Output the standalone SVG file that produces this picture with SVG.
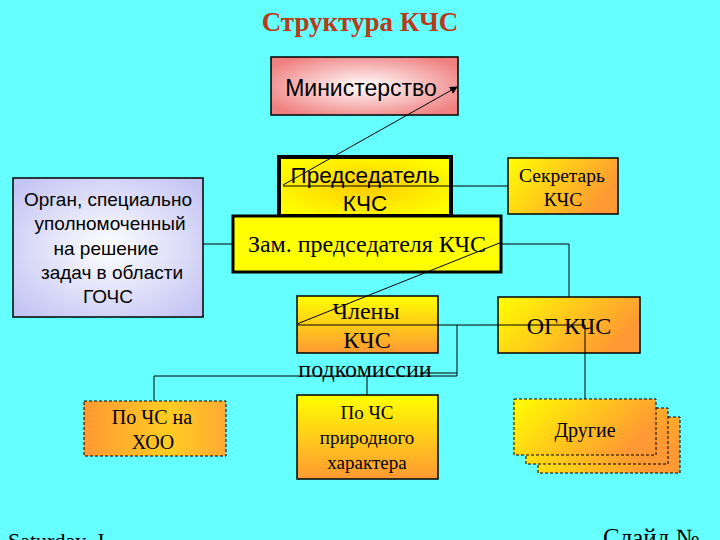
<svg xmlns="http://www.w3.org/2000/svg" width="720" height="540" viewBox="0 0 720 540">
<defs>
<radialGradient id="gPink" cx="50%" cy="50%" r="60%"><stop offset="0" stop-color="#FFFFFF"/><stop offset="1" stop-color="#F08080"/></radialGradient>
<radialGradient id="gChair" cx="50%" cy="50%" r="60%"><stop offset="0" stop-color="#FFCC00"/><stop offset="1" stop-color="#FFFF00"/></radialGradient>
<radialGradient id="gLav" cx="50%" cy="50%" r="65%"><stop offset="0" stop-color="#FFFFFF"/><stop offset="1" stop-color="#C4C4F4"/></radialGradient>
<linearGradient id="gH" x1="0" y1="0" x2="1" y2="0.4"><stop offset="0" stop-color="#FFFF00"/><stop offset="1" stop-color="#FF9933"/></linearGradient>
<linearGradient id="gV" x1="0" y1="0" x2="0" y2="1"><stop offset="0" stop-color="#FFFF00"/><stop offset="1" stop-color="#FF9933"/></linearGradient>
<linearGradient id="gO" x1="0" y1="0" x2="1" y2="0"><stop offset="0" stop-color="#FF9933"/><stop offset="0.6" stop-color="#FFCC22"/><stop offset="1" stop-color="#FFAA33"/></linearGradient>
<marker id="arr" markerWidth="8" markerHeight="8" refX="7" refY="4" orient="auto" markerUnits="userSpaceOnUse"><path d="M0,0 L8,4 L0,8 z" fill="#000"/></marker>
</defs>
<style>
.box{stroke:#000;stroke-width:1.5}
.dash{stroke:#000;stroke-width:1;stroke-dasharray:3,2}
.ln{fill:none;stroke:#000;stroke-width:1}
.sans{font-family:"Liberation Sans",Arial,sans-serif;fill:#000}
.serif{font-family:"Liberation Serif","Times New Roman",serif;fill:#000}
</style>
<rect width="720" height="540" fill="#66FFFF"/>
<text x="360" y="31" text-anchor="middle" font-family="Liberation Serif, Times New Roman, serif" font-weight="bold" font-size="27" fill="#B83A1B">Структура КЧС</text>

<g id="ministry">
<rect x="271" y="57" width="187" height="58" fill="url(#gPink)" class="box" stroke-width="2"/>
<text x="361" y="96" text-anchor="middle" class="sans" font-size="23">Министерство</text>
</g>

<g id="chairman">
<rect x="279" y="157" width="172" height="59" fill="url(#gChair)" stroke="#000" stroke-width="4"/>
<text x="365" y="183" text-anchor="middle" class="sans" font-size="22.5">Председатель</text>
<text x="365" y="211" text-anchor="middle" class="sans" font-size="22.5">КЧС</text>
</g>

<g id="deputy">
<rect x="233" y="216" width="268" height="56" fill="#FFFF00" stroke="#000" stroke-width="3"/>
<text x="367" y="252" text-anchor="middle" class="serif" font-size="24">Зам. председателя КЧС</text>
</g>

<g id="secretary">
<rect x="508" y="158" width="110" height="56" fill="url(#gH)" class="box"/>
<text x="562" y="182" text-anchor="middle" class="serif" font-size="19.5">Секретарь</text>
<text x="563" y="206" text-anchor="middle" class="serif" font-size="19.5">КЧС</text>
</g>

<g id="organ">
<rect x="13" y="178" width="190" height="139" fill="url(#gLav)" class="box" stroke-width="1"/>
<text x="108" y="206" text-anchor="middle" class="sans" font-size="19">Орган, специально</text>
<text x="110" y="230" text-anchor="middle" class="sans" font-size="19">уполномоченный</text>
<text x="106" y="255" text-anchor="middle" class="sans" font-size="19">на решение</text>
<text x="112" y="279" text-anchor="middle" class="sans" font-size="19">задач в области</text>
<text x="108" y="303" text-anchor="middle" class="sans" font-size="19">ГОЧС</text>
</g>

<g id="members">
<rect x="297" y="296" width="141" height="57" fill="url(#gV)" class="box"/>
<text x="366" y="319" text-anchor="middle" class="serif" font-size="24">Члены</text>
<text x="367" y="348" text-anchor="middle" class="serif" font-size="24">КЧС</text>
<text x="365" y="377" text-anchor="middle" class="serif" font-size="24">подкомиссии</text>
</g>

<g id="og">
<rect x="498" y="297" width="142" height="56" fill="url(#gH)" class="box"/>
<text x="569" y="334" text-anchor="middle" class="serif" font-size="24">ОГ КЧС</text>
</g>

<g id="hoo">
<rect x="84" y="401" width="142" height="55" fill="url(#gO)" class="dash"/>
<text x="152" y="424" text-anchor="middle" class="serif" font-size="20">По ЧС на</text>
<text x="153" y="449" text-anchor="middle" class="serif" font-size="20">ХОО</text>
</g>

<g id="natural">
<rect x="297" y="395" width="141" height="84" fill="url(#gV)" class="box" stroke-width="1"/>
<text x="367" y="419" text-anchor="middle" class="serif" font-size="19">По ЧС</text>
<text x="367" y="444" text-anchor="middle" class="serif" font-size="19">природного</text>
<text x="367" y="469" text-anchor="middle" class="serif" font-size="19">характера</text>
</g>

<g id="others">
<rect x="538" y="417" width="142" height="56" fill="url(#gH)" class="dash"/>
<rect x="526" y="408" width="142" height="56" fill="url(#gH)" class="dash"/>
<rect x="514" y="399" width="142" height="56" fill="url(#gH)" class="dash"/>
<text x="585" y="437" text-anchor="middle" class="serif" font-size="20">Другие</text>
</g>

<g id="connectors">
<line x1="283" y1="185" x2="457" y2="87" class="ln" marker-end="url(#arr)"/>
<line x1="283" y1="186" x2="508" y2="186" class="ln"/>
<line x1="203" y1="244" x2="233" y2="244" class="ln"/>
<polyline points="501,244 569,244 569,297" class="ln"/>
<line x1="297" y1="324" x2="502" y2="242" class="ln"/>
<line x1="297" y1="325" x2="585" y2="325" class="ln"/>
<line x1="585" y1="325" x2="585" y2="399" class="ln"/>
<polyline points="457,325 457,376 154,376 154,401" class="ln"/>
<line x1="420" y1="373" x2="457" y2="373" class="ln"/>
<line x1="367" y1="376" x2="367" y2="395" class="ln"/>
</g>

<text x="8" y="548" class="serif" font-size="22">Saturday, J</text>
<text x="603" y="546" class="serif" font-size="25">Слайд №</text>
</svg>
